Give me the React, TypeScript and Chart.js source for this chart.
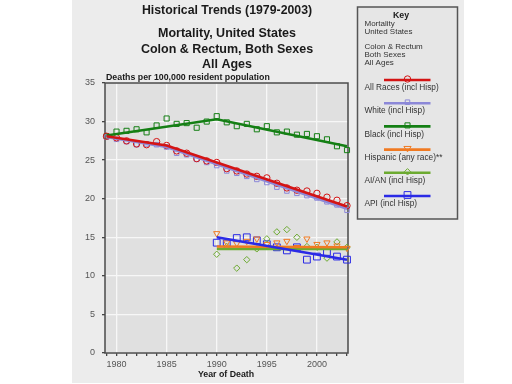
import React, { useEffect, useRef } from 'react';
import { Chart, registerables } from 'chart.js';

Chart.register(...registerables);

// ---- data ----
const years = [1979, 1980, 1981, 1982, 1983, 1984, 1985, 1986, 1987, 1988, 1989, 1990, 1991, 1992, 1993, 1994, 1995, 1996, 1997, 1998, 1999, 2000, 2001, 2002, 2003];
const allRaces = [28.1, 27.9, 27.5, 27.1, 27.0, 27.4, 26.9, 26.2, 25.9, 25.2, 24.9, 24.7, 23.9, 23.6, 23.2, 22.9, 22.7, 22.0, 21.4, 21.1, 21.0, 20.7, 20.2, 19.8, 19.1];
const white = [28.0, 27.7, 27.4, 27.0, 27.1, 27.0, 26.7, 25.9, 25.7, 25.1, 24.7, 24.3, 23.6, 23.3, 22.9, 22.5, 22.1, 21.5, 21.0, 20.7, 20.4, 20.1, 19.6, 19.2, 18.5];
const black = [28.1, 28.7, 28.8, 29.0, 28.6, 29.5, 30.4, 29.7, 29.8, 29.2, 30.0, 30.7, 29.9, 29.4, 29.7, 29.0, 29.4, 28.6, 28.7, 28.3, 28.4, 28.1, 27.7, 26.8, 26.3];
const recentYears = [1990, 1991, 1992, 1993, 1994, 1995, 1996, 1997, 1998, 1999, 2000, 2001, 2002, 2003];
const hispanic = [15.5, 14.3, 14.2, 14.5, 14.8, 14.1, 14.3, 14.5, 13.7, 14.8, 14.1, 14.3, 13.9, 13.6];
const aian = [12.8, 13.8, 11.0, 12.1, 13.5, 14.8, 15.7, 16.0, 15.0, 13.8, 13.7, 12.3, 14.4, 13.7];
const api = [14.3, 14.2, 14.9, 15.0, 14.6, 14.1, 13.7, 13.3, 13.7, 12.1, 12.5, 13.1, 12.5, 12.1];

// joinpoint trend lines
const allRacesTrendYears = [1979, 1985, 2003];
const allRacesTrend = [28.1, 26.9, 19.0];
const whiteTrendYears = [1979, 1985, 2003];
const whiteTrend = [28.0, 26.7, 18.7];
const blackTrendYears = [1979, 1990, 2003];
const blackTrend = [28.2, 30.3, 26.8];
const recentTrendYears = [1990, 2003];
const hispanicTrend = [13.8, 13.7];
const aianTrend = [13.5, 13.5];
const apiTrend = [15.0, 12.1];

const xTickYears = [1979, 1980, 1981, 1982, 1983, 1984, 1985, 1986, 1987, 1988, 1989, 1990, 1991, 1992, 1993, 1994, 1995, 1996, 1997, 1998, 1999, 2000, 2001, 2002, 2003];

const titleLines = ['Mortality, United States', 'Colon & Rectum, Both Sexes', 'All Ages'];
const keyInfoLines = ['Mortality', 'United States', '', 'Colon & Rectum', 'Both Sexes', 'All Ages'];

// ---- styles ----
const RED = '#d41414';
const PURPLE = '#8c88d8';
const DKGREEN = '#147f14';
const ORANGE = '#f07a22';
const LTGREEN = '#6caa30';
const BLUE = '#2a2ae6';

const series = [
  { label: 'All Races (incl Hisp)', color: RED, shape: 'circle', r: 3.2, xs: years, ys: allRaces, tx: allRacesTrendYears, ty: allRacesTrend },
  { label: 'White (incl Hisp)', color: PURPLE, shape: 'rect', r: 3.2, xs: years, ys: white, tx: whiteTrendYears, ty: whiteTrend },
  { label: 'Black (incl Hisp)', color: DKGREEN, shape: 'rect', r: 3.6, xs: years, ys: black, tx: blackTrendYears, ty: blackTrend },
  { label: 'Hispanic (any race)**', color: ORANGE, shape: 'triangle', r: 3.6, xs: recentYears, ys: hispanic, tx: recentTrendYears, ty: hispanicTrend },
  { label: 'AI/AN (incl Hisp)', color: LTGREEN, shape: 'rectRot', r: 3.2, xs: recentYears, ys: aian, tx: recentTrendYears, ty: aianTrend },
  { label: 'API (incl Hisp)', color: BLUE, shape: 'rect', r: 4.8, xs: recentYears, ys: api, tx: recentTrendYears, ty: apiTrend },
];

const FONT = '"Liberation Sans", Arial, sans-serif';

function drawMarker(ctx: CanvasRenderingContext2D, shape: string, x: number, y: number, r: number, color: string) {
  ctx.save();
  ctx.strokeStyle = color;
  ctx.lineWidth = 1;
  ctx.beginPath();
  if (shape === 'circle') {
    ctx.arc(x, y, r, 0, Math.PI * 2);
  } else if (shape === 'rect') {
    const s = r * Math.SQRT1_2;
    ctx.rect(x - s, y - s, 2 * s, 2 * s);
  } else if (shape === 'rectRot') {
    ctx.moveTo(x, y - r); ctx.lineTo(x + r, y); ctx.lineTo(x, y + r); ctx.lineTo(x - r, y); ctx.closePath();
  } else if (shape === 'triangle') {
    ctx.moveTo(x - r, y - r * 0.6); ctx.lineTo(x + r, y - r * 0.6); ctx.lineTo(x, y + r * 0.9); ctx.closePath();
  }
  ctx.stroke();
  ctx.restore();
}

const decorPlugin = {
  id: 'decor',
  beforeDraw(chart: any) {
    const ctx = chart.ctx as CanvasRenderingContext2D;
    const a = chart.chartArea;
    ctx.save();
    ctx.fillStyle = '#ffffff';
    ctx.fillRect(0, 0, chart.width, chart.height);
    ctx.fillStyle = '#ececec';
    ctx.fillRect(72, 0, 392, 383);
    ctx.fillStyle = '#e0e0e0';
    ctx.fillRect(a.left, a.top, a.right - a.left, a.bottom - a.top);
    ctx.restore();
  },
  beforeDatasetsDraw(chart: any) {
    const ctx = chart.ctx as CanvasRenderingContext2D;
    const a = chart.chartArea;
    ctx.save();
    ctx.strokeStyle = '#4a4a4a';
    ctx.lineWidth = 1.5;
    ctx.strokeRect(a.left, a.top, a.right - a.left, a.bottom - a.top);
    ctx.restore();
  },
  afterDraw(chart: any) {
    const ctx = chart.ctx as CanvasRenderingContext2D;
    const a = chart.chartArea;
    ctx.save();
    ctx.fillStyle = '#1a1a1a';
    ctx.textAlign = 'center';
    ctx.textBaseline = 'middle';
    ctx.font = `bold 12.3px ${FONT}`;
    ctx.fillText('Historical Trends (1979-2003)', 227, 11);
    ctx.font = `bold 12.5px ${FONT}`;
    titleLines.forEach((t, i) => ctx.fillText(t, 227, 34 + i * 15.3));
    ctx.font = `bold 8.8px ${FONT}`;
    ctx.textAlign = 'left';
    ctx.fillText('Deaths per 100,000 resident population', a.left + 1, 78);
    ctx.textAlign = 'center';
    ctx.font = `bold 8.8px ${FONT}`;
    ctx.fillText('Year of Death', 226, 374.5);

    // key box
    ctx.fillStyle = '#e6e6e6';
    ctx.fillRect(357.5, 7, 100, 212);
    ctx.strokeStyle = '#555';
    ctx.lineWidth = 1.5;
    ctx.strokeRect(357.5, 7, 100, 212);
    ctx.fillStyle = '#1a1a1a';
    ctx.font = `bold 8.8px ${FONT}`;
    ctx.textAlign = 'center';
    ctx.fillText('Key', 401, 15.7);
    ctx.textAlign = 'left';
    ctx.fillStyle = '#333';
    ctx.font = `8px ${FONT}`;
    keyInfoLines.forEach((t, i) => { if (t) ctx.fillText(t, 364.5, 23.5 + i * 7.8); });
    ctx.font = `8.3px ${FONT}`;
    series.forEach((s, i) => {
      const ly = 80 + i * 23.2;
      ctx.strokeStyle = s.color;
      ctx.lineWidth = 2.6;
      ctx.beginPath();
      ctx.moveTo(384, ly);
      ctx.lineTo(430.5, ly);
      ctx.stroke();
      drawMarker(ctx, s.shape, 407.5, ly - 1, s.r, s.color);
      ctx.fillStyle = '#333';
      ctx.fillText(s.label, 364.5, ly + 8);
    });
    ctx.restore();
  },
};

export default function App() {
  const ref = useRef<HTMLCanvasElement | null>(null);
  useEffect(() => {
    if (!ref.current) return;
    const trendSets = series.map((s) => ({
      type: 'line' as const,
      label: s.label + ' trend',
      data: s.tx.map((x, i) => ({ x, y: s.ty[i] })),
      borderColor: s.color,
      borderWidth: 2.6,
      pointRadius: 0,
      fill: false,
      tension: 0,
      clip: false as any,
    }));
    // draw order: first dataset on top
    const trendOrder = [0, 5, 3, 4, 2, 1];
    const pointSets = series.map((s) => ({
      type: 'line' as const,
      label: s.label,
      data: s.xs.map((x, i) => ({ x, y: s.ys[i] })),
      showLine: false,
      borderColor: s.color,
      backgroundColor: 'rgba(0,0,0,0)',
      pointStyle: s.shape,
      pointRadius: s.r,
      pointBorderWidth: 1,
      pointBorderColor: s.color,
      pointBackgroundColor: 'rgba(0,0,0,0)',
      pointRotation: s.shape === 'triangle' ? 180 : 0,
      clip: false as any,
    }));
    const chart = new Chart(ref.current, {
      type: 'line',
      data: { datasets: [...trendOrder.map((i) => trendSets[i]), ...pointSets] as any },
      options: {
        animation: false,
        responsive: false,
        layout: { padding: { left: 72, top: 83, right: 164, bottom: 0 } },
        plugins: { legend: { display: false }, title: { display: false }, tooltip: { enabled: false } },
        scales: {
          x: {
            type: 'linear',
            min: 1978.85,
            max: 2003.1,
            afterBuildTicks: (axis: any) => { axis.ticks = xTickYears.map((v) => ({ value: v })); },
            afterFit: (axis: any) => { axis.height = 31; },
            border: { display: false },
            grid: {
              color: (c: any) => (c.tick && c.tick.value % 5 === 0 ? '#f7f7f7' : 'rgba(0,0,0,0)'),
              lineWidth: 1.3,
              tickColor: '#444',
              tickLength: 3,
              drawTicks: true,
            },
            ticks: {
              autoSkip: false,
              maxRotation: 0,
              padding: 3,
              color: '#555',
              font: { family: FONT, size: 9 },
              callback: (v: any) => (Number(v) % 5 === 0 ? String(v) : ''),
            },
          },
          y: {
            type: 'linear',
            min: 0,
            max: 35,
            afterFit: (axis: any) => { axis.width = 33; },
            border: { display: false },
            grid: { color: '#f7f7f7', lineWidth: 1.3, tickColor: '#444', tickLength: 3 },
            ticks: { stepSize: 5, padding: 7, color: '#555', font: { family: FONT, size: 9 } },
          },
        },
      },
      plugins: [decorPlugin],
    });
    return () => chart.destroy();
  }, []);
  return (
    <div style={{ position: 'absolute', left: 0, top: 0, width: 512, height: 384 }}>
      <canvas ref={ref} width={512} height={384} />
    </div>
  );
}
